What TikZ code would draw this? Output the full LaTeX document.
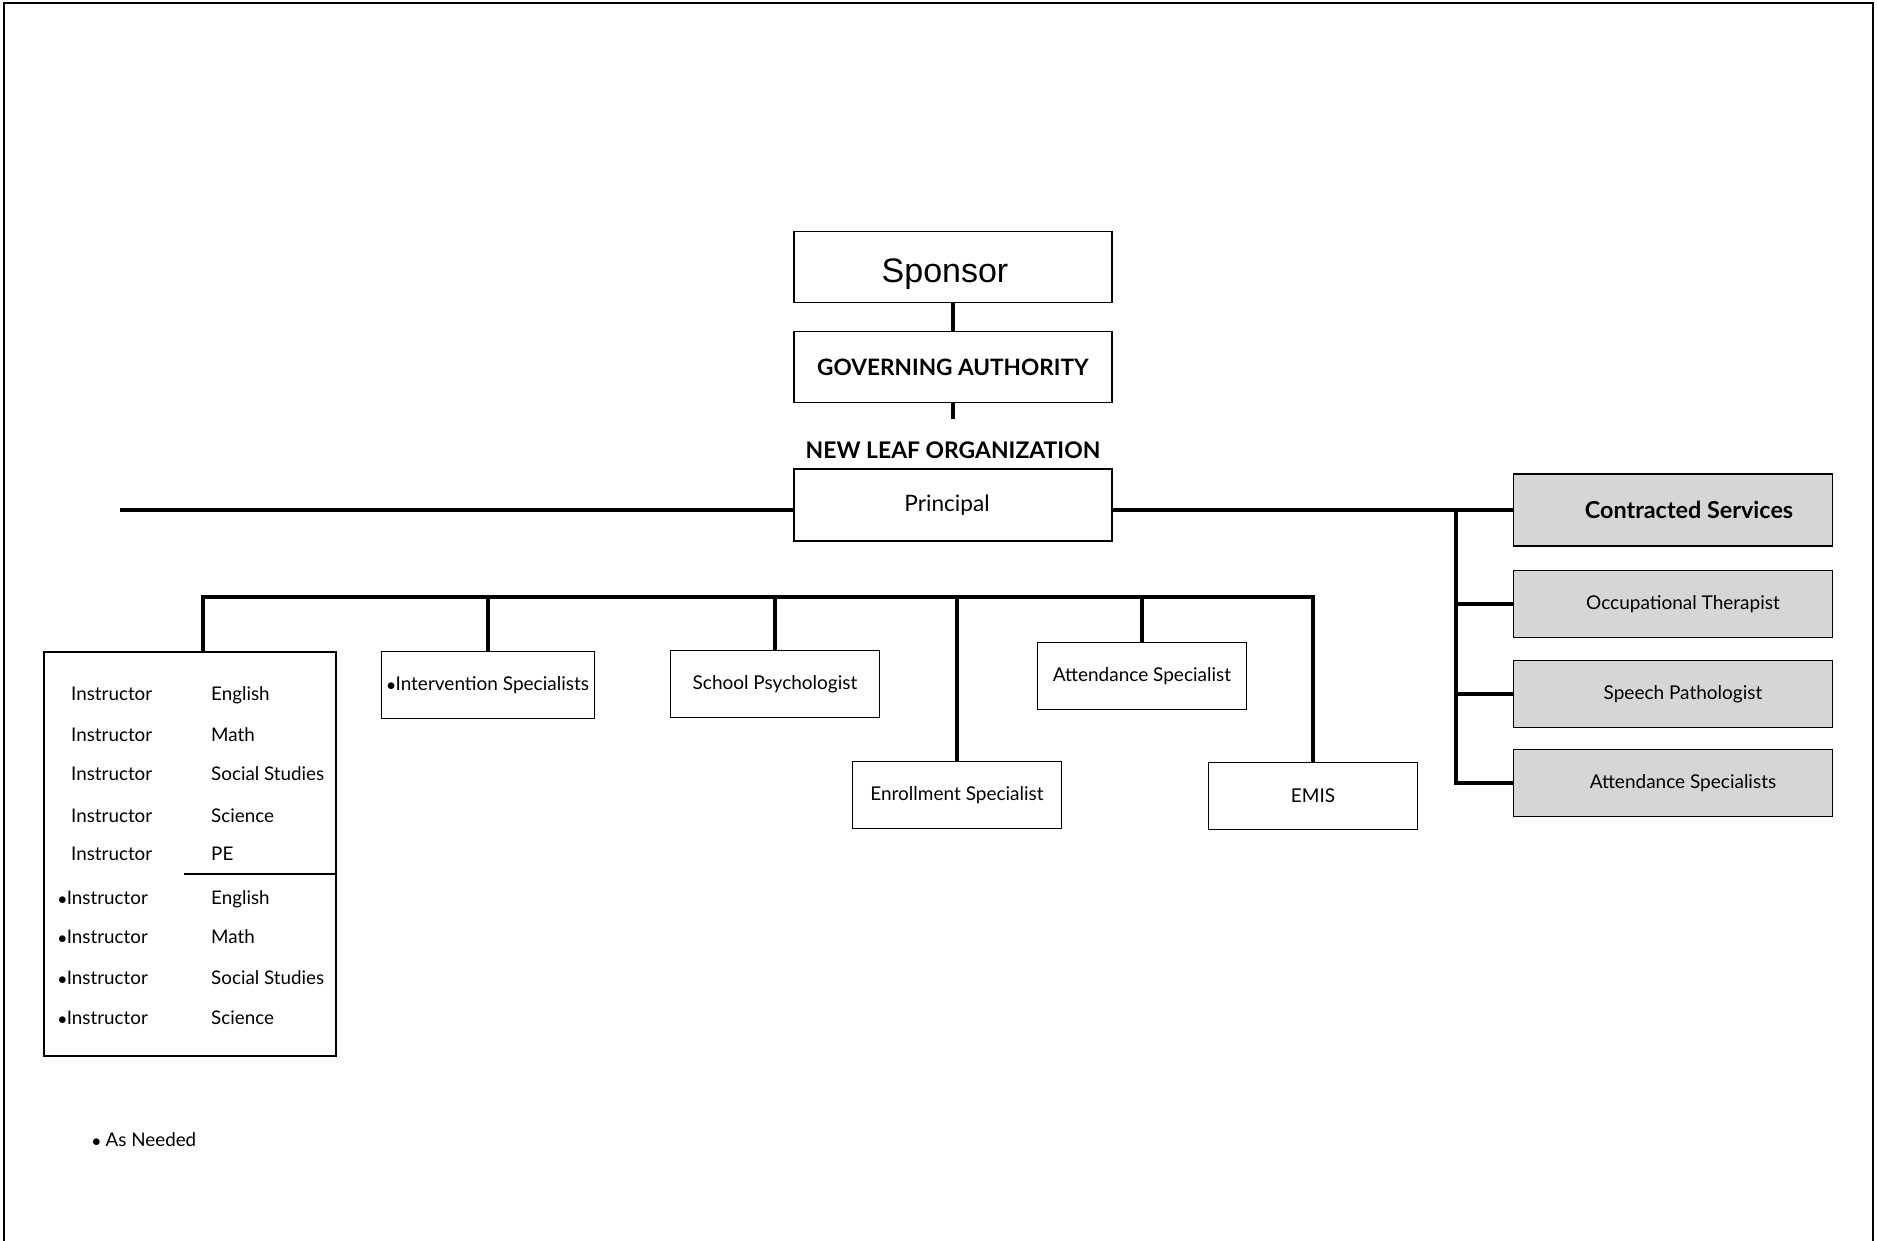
\documentclass[tikz,border=0pt]{standalone}
\usepackage{fontspec}
\setmainfont{Lato}
\newfontfamily\arialfont{Liberation Sans}
\usetikzlibrary{positioning}
\definecolor{kasten}{HTML}{D6D6D6}
\tikzset{
  box/.style={draw,line width=1.6pt,minimum width=318pt,minimum height=71pt,inner sep=0pt,font=\fontsize{22.6}{27}\selectfont},
  smallbox/.style={draw,line width=1.6pt,minimum width=209pt,minimum height=67pt,inner sep=0pt,font=\fontsize{19}{23}\selectfont},
  greybox/.style={draw,fill=kasten,line width=1.6pt,minimum width=319pt,minimum height=67pt,inner sep=0pt,font=\fontsize{19}{23}\selectfont},
  link/.style={line width=3.2pt},
  txt/.style={anchor=base west,inner sep=0pt,font=\fontsize{18.8}{22}\selectfont},
}

\begin{document}
\begin{tikzpicture}[x=1pt,y=-1pt]
  \useasboundingbox (0,0) rectangle (1877,1241);
  \draw[line width=2.4pt] (4,1241) -- (4,3) -- (1873,3) -- (1873,1241);

  % top of the chart
  \node[box] (sponsor) at (953,267) {};
  \node[inner sep=0pt,font=\arialfont\fontsize{34}{40}\selectfont] (sponsortxt) at (945,274) {Sponsor};
  \node[box,font=\bfseries\fontsize{22.6}{27}\selectfont] (gov) at (953,367) {GOVERNING AUTHORITY};
  \node[inner sep=0pt,font=\bfseries\fontsize{22.9}{27}\selectfont] (nlo) at (953,450) {NEW LEAF ORGANIZATION};
  \node[box,minimum height=72pt] (principal) at (953,505) {Principal\hspace*{12pt}};
  \draw[link] (sponsor) -- (gov);
  \coordinate (govstub) at (953,419);
  \draw[link] (gov) -- (govstub);

  % contracted services
  \node[greybox,minimum height=72pt,font=\bfseries\fontsize{23.4}{28}\selectfont] (contract) at (1673,510) {\hspace*{32pt}Contracted Services};
  \node[greybox] (occup) at (1673,604) {\hspace*{20pt}Occupational Therapist};
  \node[greybox] (speech) at (1673,694) {\hspace*{20pt}Speech Pathologist};
  \node[greybox] (attsp) at (1673,783) {\hspace*{20pt}Attendance Specialists};
  \coordinate (leftend) at (120,510);
  \coordinate (split) at (1456,510);
  \draw[link] (leftend) -- (principal.west |- leftend);
  \draw[link] (principal.east |- leftend) -- (contract.west);
  \draw[link] (split) |- (attsp.west);
  \draw[link] (split |- occup) -- (occup.west);
  \draw[link] (split |- speech) -- (speech.west);

  % staff under the bus
  \node[draw,line width=1.6pt,minimum width=292pt,minimum height=404pt,inner sep=0pt] (staff) at (190,854) {};
  \node[smallbox,minimum width=213pt] (interv) at (488,685) {$\bullet$Intervention Specialists};
  \node[smallbox] (psych) at (775,684) {School Psychologist};
  \node[smallbox] (enroll) at (957,795) {Enrollment Specialist};
  \node[smallbox] (attend) at (1142,676) {Attendance Specialist};
  \node[smallbox] (emis) at (1313,796) {EMIS};
  \coordinate (busL) at (203,597);
  \draw[link] (busL |- staff.north) -- (busL) -- (emis.north |- busL) -- (emis.north);
  \foreach \n in {interv,psych,enroll,attend}
    \draw[link] (\n.north) -- (\n.north |- busL);

  % instructor list
  \foreach \y/\s [count=\i] in {693/English,734/Math,773/Social Studies,815/Science,853/PE}{
    \node[txt] (ins\i) at (71,\y+7) {Instructor};
    \node[txt] (sub\i) at (211,\y+7) {\s};
  }
  \foreach \y/\s [count=\i from 6] in {897/English,936/Math,977/Social Studies,1017/Science}{
    \node[txt] (ins\i) at (58,\y+7) {$\bullet$Instructor};
    \node[txt] (sub\i) at (211,\y+7) {\s};
  }
  \coordinate (sepL) at (184,874);
  \draw[line width=2.6pt] (sepL) -- (sepL -| staff.east);

  \node[txt] (needed) at (92,1146) {$\bullet$ As Needed};
\end{tikzpicture}
\end{document}
